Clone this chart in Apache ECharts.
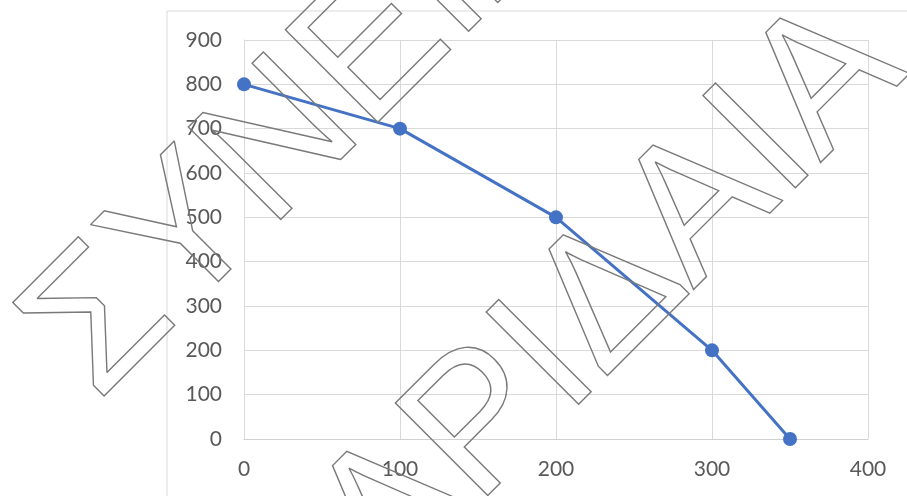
<!DOCTYPE html>
<html><head><meta charset="utf-8">
<script src="https://cdn.jsdelivr.net/npm/echarts@6/dist/echarts.min.js"></script>
<style>html,body{margin:0;padding:0;background:#fff}#c{width:907px;height:496px}</style>
</head><body><div id="c"></div>
<script>
const xValues = [0, 100, 200, 300, 350];
const yValues = [800, 700, 500, 200, 0];
const xTicks = [0, 100, 200, 300, 400];
const yTicks = [0, 100, 200, 300, 400, 500, 600, 700, 800, 900];
const watermarkLines = ["ΣΥΝΕΙΔ", "ΑΡΙΔΑΙΑ"];

const chart = echarts.init(document.getElementById('c'), null, {renderer: 'canvas'});
const labelStyle = {color: '#595959', fontSize: 21, fontFamily: 'Lato'};
const wmStyle = (t) => ({
  text: t, font: '190px "Liberation Sans"', fill: 'none', stroke: '#7a7a7a', lineWidth: 1.4,
  align: 'left', verticalAlign: 'middle', textAlign: 'left', textVerticalAlign: 'middle'
});
chart.setOption({
  animation: false,
  backgroundColor: '#fff',
  grid: {left: 244, right: 39, top: 40, bottom: 57, containLabel: false},
  xAxis: {
    type: 'value', min: xTicks[0], max: xTicks[xTicks.length - 1], interval: 100,
    axisLine: {show: true, lineStyle: {color: '#d0d0d0', width: 1}},
    axisTick: {show: false},
    splitLine: {show: true, lineStyle: {color: '#d9d9d9', width: 1}},
    axisLabel: Object.assign({margin: 20}, labelStyle)
  },
  yAxis: {
    type: 'value', min: yTicks[0], max: yTicks[yTicks.length - 1], interval: 100,
    axisLine: {show: true, lineStyle: {color: '#d9d9d9', width: 1}},
    axisTick: {show: false},
    splitLine: {show: true, lineStyle: {color: '#d9d9d9', width: 1}},
    axisLabel: Object.assign({margin: 22}, labelStyle)
  },
  series: [{
    type: 'line',
    data: xValues.map((x, i) => [x, yValues[i]]),
    symbol: 'circle', symbolSize: 14,
    lineStyle: {color: '#4472C4', width: 3},
    itemStyle: {color: '#4472C4'},
    z: 3
  }],
  graphic: [
    {type: 'rect', shape: {x: 167, y: 11, width: 900, height: 600}, style: {fill: 'none', stroke: '#d9d9d9', lineWidth: 1}, silent: true, z: 0},
    {type: 'text', x: 60, y: 366, rotation: Math.PI / 4, style: wmStyle(watermarkLines[0]), silent: true, z: 100},
    {type: 'text', x: 350, y: 559, rotation: Math.PI / 4, style: wmStyle(watermarkLines[1]), silent: true, z: 100}
  ]
});
</script></body></html>
